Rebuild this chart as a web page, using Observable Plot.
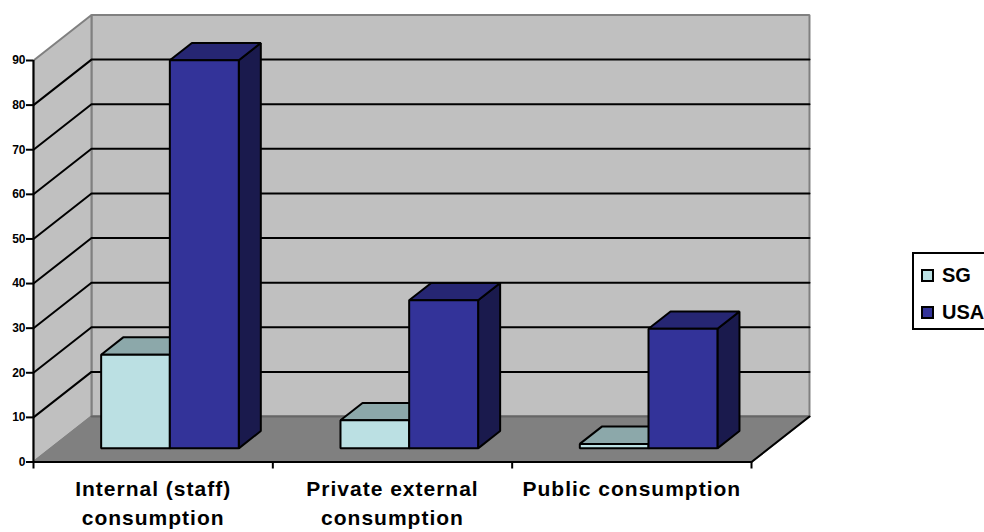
<!DOCTYPE html>
<html>
<head>
<meta charset="utf-8">
<script src="https://cdn.jsdelivr.net/npm/d3@7"></script>
<script src="https://cdn.jsdelivr.net/npm/@observablehq/plot@0.6"></script>
<style>
  html, body { margin: 0; padding: 0; background: #fff; overflow: hidden; }
  #chart { position: relative; width: 984px; height: 532px; overflow: hidden; font-family: "Liberation Sans", Arial, sans-serif; }
  #chart svg { display: block; }
  g[aria-label="x-axis tick label"] text { letter-spacing: 1px; }
  .legend { position: absolute; left: 912px; top: 252px; width: 90px; height: 74px; border: 2px solid #000; background: #fff; font-weight: bold; font-size: 20px; color: #000; box-sizing: content-box; }
  .legend .row { position: absolute; left: 7px; display: flex; align-items: center; height: 14px; }
  .legend .swatch { width: 9px; height: 9px; border: 2px solid #000; margin-right: 8px; }
</style>
</head>
<body>
<div id="chart"></div>
<script>
// Survey results by consumption type
const categories = ["Internal (staff)\nconsumption", "Private external\nconsumption", "Public consumption"];
const sgValues = [21, 6.3, 1];
const usaValues = [87, 33.2, 26.8];
const valueTicks = [0, 10, 20, 30, 40, 50, 60, 70, 80, 90];
const seriesNames = ["SG", "USA"];

const seriesColors = {
  SG: {front: "#BBE0E3", top: "#8CA8AA", side: "#5E7072"},
  USA: {front: "#333399", top: "#262673", side: "#1A1A4D"}
};
const wallColor = "#C0C0C0";
const floorColor = "#808080";
const edgeColor = "#808080";
const floorBackColor = "#666666";

// Oblique projection: depth 0 is the front plane, depth 1 the back wall.
const depthX = 0.2423; // category units
const depthY = 10.2;   // value units
const project = (c, v, d = 0) => ({x: c + d * depthX, y: v + d * depthY});
const nCat = categories.length;
const vMax = valueTicks[valueTicks.length - 1];

function poly(id, fill, stroke, corners) {
  return corners.map(([c, v, d]) => ({id, fill, stroke, ...project(c, v, d)}));
}

// Walls and floor of the box
const shell = [
  ...poly("back", wallColor, edgeColor, [[0, 0, 1], [nCat, 0, 1], [nCat, vMax, 1], [0, vMax, 1]]),
  ...poly("left", wallColor, edgeColor, [[0, 0, 0], [0, 0, 1], [0, vMax, 1], [0, vMax, 0]]),
  ...poly("floor", floorColor, edgeColor, [[0, 0, 0], [nCat, 0, 0], [nCat, 0, 1], [0, 0, 1]])
];

// Gridlines run across the left wall and then along the back wall
const gridRows = valueTicks.filter((v) => v > 0 && v < vMax).flatMap((v) =>
  [[0, v, 0], [0, v, 1], [nCat, v, 1]].map(([c, val, d]) => ({id: v, ...project(c, val, d)}))
);

// Edges of the floor
const floorEdge = [[0, 0, 0], [nCat, 0, 0], [nCat, 0, 1]].map(([c, v, d]) => project(c, v, d));
const floorBack = [[0, 0, 1], [nCat, 0, 1]].map(([c, v, d]) => project(c, v, d));

// Bars: each is three visible faces, SG first so USA overlaps it
const barStart = 0.21, barMid = 0.497, barEnd = 0.785;
const depthFront = 0.3, depthBack = 0.68;
function barFaces(name, values, x0, x1) {
  const col = seriesColors[name];
  return values.flatMap((value, i) => {
    const a = i + x0, b = i + x1, id = `${name}-${i}`;
    return [
      ...poly(id + "-side", col.side, "#000", [[b, 0, depthFront], [b, 0, depthBack], [b, value, depthBack], [b, value, depthFront]]),
      ...poly(id + "-top", col.top, "#000", [[a, value, depthFront], [b, value, depthFront], [b, value, depthBack], [a, value, depthBack]]),
      ...poly(id + "-front", col.front, "#000", [[a, 0, depthFront], [b, 0, depthFront], [b, value, depthFront], [a, value, depthFront]])
    ];
  });
}
const bars = [
  ...barFaces("SG", sgValues, barStart, barMid),
  ...barFaces("USA", usaValues, barMid, barEnd)
];

const faceOptions = (w) => ({
  x: "x", y: "y", z: "id", fill: "fill", stroke: "stroke",
  strokeWidth: w, curve: "linear-closed", strokeLinejoin: "miter"
});

const plot = Plot.plot({
  width: 984,
  height: 532,
  marginLeft: 33,
  marginRight: 233,
  marginTop: 60,
  marginBottom: 70.5,
  style: {fontFamily: '"Liberation Sans", Arial, sans-serif', background: "transparent", overflow: "visible"},
  x: {domain: [0, nCat], axis: null},
  y: {domain: [0, vMax], axis: null},
  color: {type: "identity"},
  marks: [
    Plot.line(shell, faceOptions(2)),
    Plot.line(gridRows, {x: "x", y: "y", z: "id", stroke: "#000", strokeWidth: 2}),
    Plot.line(floorBack, {x: "x", y: "y", stroke: floorBackColor, strokeWidth: 2}),
    Plot.line(floorEdge, {x: "x", y: "y", stroke: "#000", strokeWidth: 2}),
    Plot.line(bars, faceOptions(2)),
    Plot.ruleX([0], {y1: 0, y2: vMax, stroke: "#000", strokeWidth: 2}),
    Plot.axisY({
      anchor: "left", ticks: valueTicks, tickSize: 7, tickPadding: 1, label: null,
      strokeWidth: 2, stroke: "#000", color: "#000", fontSize: 12, fontWeight: "bold"
    }),
    Plot.axisX({
      anchor: "bottom", ticks: d3.range(nCat + 1), tickSize: 7, tickFormat: () => "", label: null,
      strokeWidth: 2, stroke: "#000"
    }),
    Plot.axisX({
      anchor: "bottom", ticks: categories.map((_, i) => i + 0.5), tickSize: 0, tickPadding: 13, label: null,
      tickFormat: (t) => categories[Math.floor(t)], lineHeight: 1.4, lineWidth: 40,
      color: "#000", fontSize: 21, fontWeight: "bold"
    })
  ]
});

const chart = document.getElementById("chart");
chart.appendChild(plot);

// Legend box
const legend = document.createElement("div");
legend.className = "legend";
seriesNames.forEach((name, i) => {
  const row = document.createElement("div");
  row.className = "row";
  row.style.top = `${14 + i * 37}px`;
  const swatch = document.createElement("div");
  swatch.className = "swatch";
  swatch.style.background = seriesColors[name].front;
  row.appendChild(swatch);
  row.appendChild(document.createTextNode(name));
  legend.appendChild(row);
});
chart.appendChild(legend);
</script>
</body>
</html>
